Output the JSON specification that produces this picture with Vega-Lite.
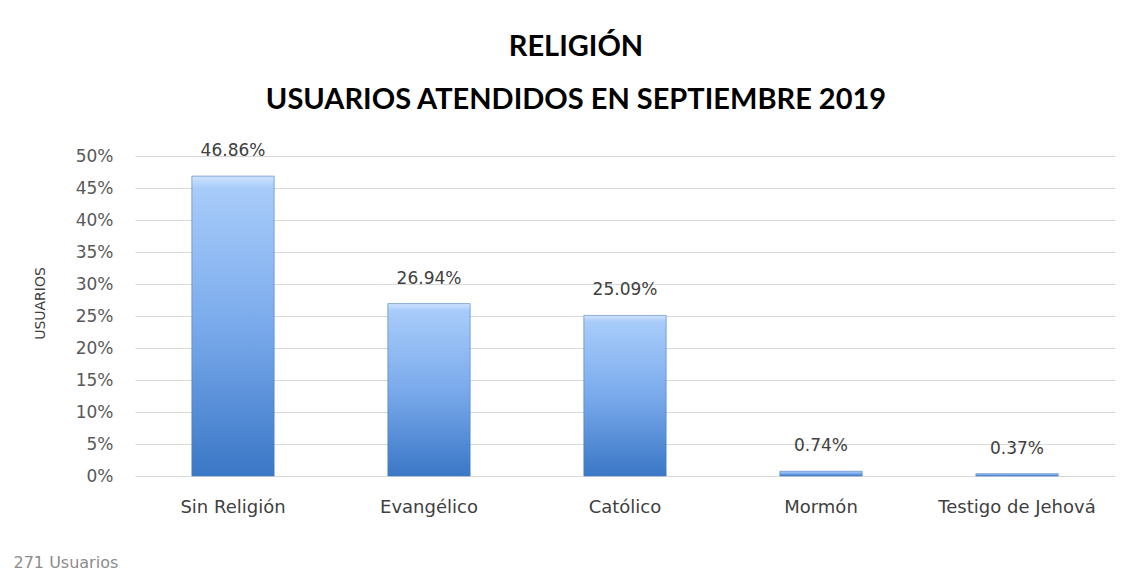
{
  "$schema": "https://vega.github.io/schema/vega-lite/v6.json",
  "width": 980,
  "height": 320,
  "autosize": {"type": "none"},
  "padding": {"left": 135, "top": 156, "right": 13, "bottom": 96},
  "background": "white",
  "title": {
    "text": ["RELIGIÓN", "USUARIOS ATENDIDOS EN SEPTIEMBRE 2019"],
    "font": "Lato",
    "fontSize": 29,
    "fontWeight": "bold",
    "color": "#000000",
    "lineHeight": 53,
    "anchor": "middle",
    "dx": -49,
    "offset": 27
  },
  "data": {
    "values": [
      {"religion": "Sin Religión", "pct": 0.4686},
      {"religion": "Evangélico", "pct": 0.2694},
      {"religion": "Católico", "pct": 0.2509},
      {"religion": "Mormón", "pct": 0.0074},
      {"religion": "Testigo de Jehová", "pct": 0.0037}
    ]
  },
  "encoding": {
    "x": {
      "field": "religion",
      "type": "nominal",
      "sort": null,
      "scale": {"paddingInner": 0.58, "paddingOuter": 0.29},
      "axis": {
        "title": "271 Usuarios",
        "titleAnchor": "start",
        "titleAlign": "left",
        "titleBaseline": "bottom",
        "titleX": -122,
        "titleY": 94,
        "titleFont": "DejaVu Sans",
        "titleFontSize": 16,
        "titleFontWeight": "normal",
        "titleColor": "#8c8c8c",
        "labelAngle": 0,
        "labelFont": "DejaVu Sans",
        "labelFontSize": 18,
        "labelColor": "#404040",
        "labelPadding": 22,
        "ticks": false,
        "domain": false
      }
    },
    "y": {
      "field": "pct",
      "type": "quantitative",
      "scale": {"domain": [0, 0.5]},
      "axis": {
        "title": "USUARIOS",
        "titleFont": "DejaVu Sans",
        "titleFontSize": 14,
        "titleFontWeight": "normal",
        "titleColor": "#404040",
        "titlePadding": 28,
        "titleY": 147,
        "format": ".0%",
        "values": [0, 0.05, 0.1, 0.15, 0.2, 0.25, 0.3, 0.35, 0.4, 0.45, 0.5],
        "labelOverlap": false,
        "labelFont": "DejaVu Sans",
        "labelFontSize": 17,
        "labelColor": "#595959",
        "labelPadding": 22,
        "ticks": false,
        "domain": false,
        "gridColor": "#d9d9d9",
        "gridWidth": 1
      }
    }
  },
  "layer": [
    {
      "mark": {
        "type": "bar",
        "stroke": "#4a7dbf",
        "strokeWidth": 0.6,
        "color": {
          "gradient": "linear",
          "x1": 0, "y1": 0, "x2": 0, "y2": 1,
          "stops": [
            {"offset": 0, "color": "#cfe3fd"},
            {"offset": 0.04, "color": "#a8ccfa"},
            {"offset": 0.5, "color": "#7aaaec"},
            {"offset": 1, "color": "#3a77c6"}
          ]
        }
      }
    },
    {
      "mark": {
        "type": "text",
        "baseline": "bottom",
        "dy": -16,
        "font": "DejaVu Sans",
        "fontSize": 17,
        "color": "#404040"
      },
      "encoding": {
        "text": {"field": "pct", "type": "quantitative", "format": ".2%"}
      }
    }
  ],
  "config": {"view": {"stroke": null}}
}
